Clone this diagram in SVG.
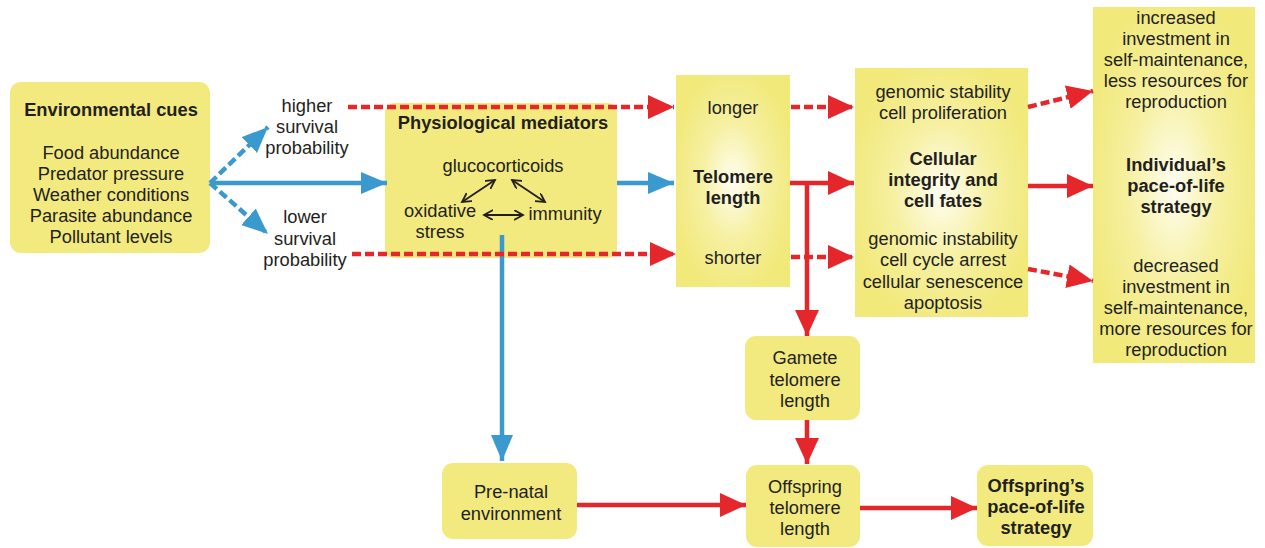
<svg xmlns="http://www.w3.org/2000/svg" width="1265" height="548" viewBox="0 0 1265 548">
<style>
  text { font-family: "Liberation Sans", Arial, sans-serif; font-size: 18.3px; fill: #231f20; text-anchor: middle; }
  .b { font-weight: bold; }
  .box { fill: #f2ea7e; }
  .gbox { fill: url(#glow); }
  .red { stroke: #e5262b; stroke-width: 4.5; fill: none; }
  .blue { stroke: #3a9ad0; stroke-width: 4.5; fill: none; }
  .dash { stroke-dasharray: 9 4; }
  .thin { stroke: #231f20; stroke-width: 1.8; fill: none; }
</style>
<defs>
  <radialGradient id="glow" cx="50%" cy="50%" r="55%">
    <stop offset="0" stop-color="#fffef2"/>
    <stop offset="0.5" stop-color="#f6f0a2"/>
    <stop offset="1" stop-color="#f1e97a"/>
  </radialGradient>
  <marker id="ar" markerUnits="userSpaceOnUse" markerWidth="28" markerHeight="26" refX="26" refY="12" orient="auto">
    <path d="M0,0 L26,12 L0,24 Z" fill="#e5262b"/>
  </marker>
  <marker id="ab" markerUnits="userSpaceOnUse" markerWidth="28" markerHeight="24" refX="26" refY="11" orient="auto">
    <path d="M0,0 L26,11 L0,22 Z" fill="#3a9ad0"/>
  </marker>
  <marker id="ak" markerUnits="userSpaceOnUse" markerWidth="12" markerHeight="12" refX="9" refY="5" orient="auto-start-reverse">
    <path d="M0,0 L9,5 L0,10" fill="none" stroke="#231f20" stroke-width="1.8"/>
  </marker>
</defs>

<g id="env">
  <rect class="box" x="10" y="82" width="200" height="171" rx="11"/>
  <text class="b" x="111" y="116">Environmental cues</text>
  <text x="111" y="159">Food abundance</text>
  <text x="111" y="180">Predator pressure</text>
  <text x="111" y="201">Weather conditions</text>
  <text x="111" y="222">Parasite abundance</text>
  <text x="111" y="243">Pollutant levels</text>
</g>

<g id="higher">
  <text x="307" y="112">higher</text>
  <text x="307" y="133">survival</text>
  <text x="307" y="154">probability</text>
</g>

<g id="lower">
  <text x="305" y="223">lower</text>
  <text x="305" y="245">survival</text>
  <text x="305" y="266">probability</text>
</g>

<g id="physio">
  <rect class="box" x="385" y="103" width="232" height="155" rx="9"/>
  <text class="b" x="503" y="129">Physiological mediators</text>
  <text x="503" y="172">glucocorticoids</text>
  <text x="440" y="217">oxidative</text>
  <text x="440" y="238">stress</text>
  <text x="565" y="220">immunity</text>
  <line class="thin" x1="462" y1="202" x2="495" y2="180" marker-start="url(#ak)" marker-end="url(#ak)"/>
  <line class="thin" x1="512" y1="180" x2="545" y2="202" marker-start="url(#ak)" marker-end="url(#ak)"/>
  <line class="thin" x1="484" y1="215" x2="523" y2="215" marker-start="url(#ak)" marker-end="url(#ak)"/>
</g>

<g id="telomere">
  <rect class="gbox" x="676" y="75" width="114" height="212"/>
  <text x="733" y="114">longer</text>
  <text class="b" x="733" y="183">Telomere</text>
  <text class="b" x="733" y="204">length</text>
  <text x="733" y="264">shorter</text>
</g>

<g id="cellular">
  <rect class="gbox" x="855" y="68" width="173" height="249"/>
  <text x="943" y="98">genomic stability</text>
  <text x="943" y="119">cell proliferation</text>
  <text class="b" x="943" y="165">Cellular</text>
  <text class="b" x="943" y="186">integrity and</text>
  <text class="b" x="943" y="207">cell fates</text>
  <text x="943" y="245">genomic instability</text>
  <text x="943" y="266">cell cycle arrest</text>
  <text x="943" y="288">cellular senescence</text>
  <text x="943" y="309">apoptosis</text>
</g>

<g id="individual">
  <rect class="gbox" x="1093" y="7" width="162" height="356"/>
  <text x="1176" y="24">increased</text>
  <text x="1176" y="45">investment in</text>
  <text x="1176" y="66">self-maintenance,</text>
  <text x="1176" y="87">less resources for</text>
  <text x="1176" y="108">reproduction</text>
  <text class="b" x="1176" y="171">Individual’s</text>
  <text class="b" x="1176" y="192">pace-of-life</text>
  <text class="b" x="1176" y="213">strategy</text>
  <text x="1176" y="272">decreased</text>
  <text x="1176" y="293">investment in</text>
  <text x="1176" y="314">self-maintenance,</text>
  <text x="1176" y="335">more resources for</text>
  <text x="1176" y="356">reproduction</text>
</g>

<g id="gamete">
  <rect class="box" x="745" y="336" width="115" height="84" rx="11"/>
  <text x="805" y="364">Gamete</text>
  <text x="805" y="386">telomere</text>
  <text x="805" y="407">length</text>
</g>

<g id="prenatal">
  <rect class="box" x="442" y="463" width="135" height="76" rx="11"/>
  <text x="511" y="498">Pre-natal</text>
  <text x="511" y="520">environment</text>
</g>

<g id="offspring">
  <rect class="box" x="746" y="465" width="114" height="82" rx="11"/>
  <text x="805" y="493">Offspring</text>
  <text x="805" y="514">telomere</text>
  <text x="805" y="535">length</text>
</g>

<g id="offspring-strategy">
  <rect class="box" x="977" y="465" width="116" height="81" rx="11"/>
  <text class="b" x="1036" y="492">Offspring’s</text>
  <text class="b" x="1036" y="513">pace-of-life</text>
  <text class="b" x="1036" y="534">strategy</text>
</g>

<g id="connectors">
  <line class="blue" x1="210" y1="183" x2="387" y2="183" marker-end="url(#ab)"/>
  <line class="blue dash" x1="210" y1="183" x2="268" y2="127" marker-end="url(#ab)"/>
  <line class="blue dash" x1="210" y1="183" x2="268" y2="234" marker-end="url(#ab)"/>
  <line class="blue" x1="617" y1="183" x2="674" y2="183" marker-end="url(#ab)"/>
  <line class="blue" x1="502" y1="235" x2="502" y2="461" marker-end="url(#ab)"/>
  <line class="red dash" x1="348" y1="107" x2="674" y2="107" marker-end="url(#ar)"/>
  <line class="red dash" x1="352" y1="254" x2="676" y2="254" marker-end="url(#ar)"/>
  <line class="red dash" x1="791" y1="107" x2="854" y2="107" marker-end="url(#ar)"/>
  <line class="red" x1="790" y1="183" x2="854" y2="183" marker-end="url(#ar)"/>
  <line class="red dash" x1="791" y1="257" x2="854" y2="257" marker-end="url(#ar)"/>
  <line class="red" x1="807" y1="181" x2="807" y2="336" marker-end="url(#ar)"/>
  <line class="red dash" x1="1028" y1="107" x2="1093" y2="91" marker-end="url(#ar)"/>
  <line class="red" x1="1028" y1="186" x2="1093" y2="186" marker-end="url(#ar)"/>
  <line class="red dash" x1="1028" y1="269" x2="1093" y2="281" marker-end="url(#ar)"/>
  <line class="red" x1="807" y1="420" x2="807" y2="464" marker-end="url(#ar)"/>
  <line class="red" x1="577" y1="505" x2="746" y2="505" marker-end="url(#ar)"/>
  <line class="red" x1="860" y1="508" x2="977" y2="508" marker-end="url(#ar)"/>
</g>
</svg>
